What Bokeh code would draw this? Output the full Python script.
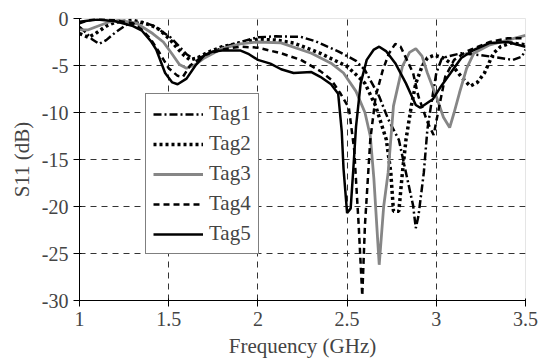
from bokeh.plotting import figure
from bokeh.models import Range1d, FixedTicker, Legend, LegendItem
from bokeh.embed import file_html
from bokeh.resources import INLINE

# ---- data ----
tag1_f = [1.0, 1.03, 1.07, 1.11, 1.15, 1.2, 1.26, 1.35, 1.42, 1.47, 1.51, 1.56, 1.6, 1.64, 1.7, 1.8, 1.9, 2.0,
          2.1, 2.24, 2.32, 2.39, 2.45, 2.5, 2.55, 2.6, 2.68, 2.73, 2.79, 2.83, 2.87, 2.885, 2.9, 2.93, 2.95,
          2.97, 3.0, 3.03, 3.06, 3.14, 3.25, 3.36, 3.43, 3.48, 3.5]
tag1_s = [-0.9, -1.4, -2.2, -2.7, -2.3, -1.5, -0.7, -0.35, -0.8, -1.5, -2.0, -3.0, -3.8, -4.3, -4.0, -3.1, -2.5, -2.0,
          -1.9, -1.95, -2.4, -3.0, -3.5, -4.0, -4.5, -5.5, -8.3, -10.7, -12.9, -16.4, -19.9, -22.3, -21.0, -16.4, -11.8,
          -9.3, -5.8, -4.3, -4.05, -3.7, -3.9, -4.2, -4.4, -4.05, -3.3]

tag2_f = [1.0, 1.05, 1.09, 1.15, 1.2, 1.3, 1.4, 1.45, 1.51, 1.55, 1.585, 1.62, 1.66, 1.72, 1.8, 1.9, 2.0, 2.1,
          2.2, 2.35, 2.5, 2.58, 2.6, 2.66, 2.72, 2.745, 2.76, 2.79, 2.81, 2.83, 2.86, 2.885, 2.92, 2.95, 2.99,
          3.04, 3.08, 3.14, 3.19, 3.23, 3.27, 3.32, 3.36, 3.42, 3.5]
tag2_s = [-1.6, -2.0, -1.6, -0.8, -0.4, -0.2, -0.7, -1.2, -2.3, -3.2, -3.9, -4.4, -4.2, -3.6, -3.0, -2.6, -2.2, -2.3,
          -2.6, -3.7, -5.1, -6.5, -6.9, -9.3, -12.9, -16.4, -20.5, -20.5, -16.4, -12.9, -9.3, -6.9, -5.1, -4.2, -3.9,
          -4.2, -4.75, -6.2, -7.2, -6.8, -5.8, -3.7, -3.0, -2.6, -2.8]

tag3_f = [1.0, 1.05, 1.09, 1.17, 1.22, 1.32, 1.41, 1.47, 1.52, 1.56, 1.6, 1.65, 1.7, 1.8, 1.9, 2.0, 2.13, 2.3,
          2.41, 2.48, 2.55, 2.6, 2.63, 2.65, 2.68, 2.705, 2.73, 2.76, 2.81, 2.85, 2.885, 2.92, 2.95, 3.0, 3.04,
          3.075, 3.1, 3.13, 3.17, 3.21, 3.3, 3.4, 3.5]
tag3_s = [-1.2, -1.2, -0.9, -0.35, -0.2, -0.5, -1.6, -2.5, -3.8, -4.9, -5.3, -4.9, -4.2, -3.2, -2.7, -2.5, -2.6, -3.7,
          -4.75, -5.8, -7.75, -10.0, -12.5, -17.0, -26.2, -20.0, -16.4, -9.3, -5.1, -3.6, -3.2, -4.0, -5.8, -8.3, -10.5,
          -11.6, -10.0, -7.9, -5.3, -3.7, -2.8, -2.3, -1.8]

tag4_f = [1.0, 1.05, 1.1, 1.2, 1.3, 1.35, 1.4, 1.45, 1.5, 1.55, 1.58, 1.62, 1.7, 1.8, 1.9, 2.0, 2.13, 2.24,
          2.35, 2.41, 2.46, 2.51, 2.54, 2.565, 2.585, 2.6, 2.63, 2.66, 2.7, 2.735, 2.77, 2.8, 2.87, 2.9, 2.95,
          2.985, 3.02, 3.05, 3.1, 3.17, 3.3, 3.4, 3.5]
tag4_s = [-0.5, -0.2, -0.05, -0.2, -0.5, -1.2, -2.2, -3.7, -5.3, -6.1, -6.2, -5.0, -3.9, -3.3, -3.0, -3.1, -3.7, -4.4,
          -5.6, -6.5, -7.9, -9.5, -14.0, -22.0, -29.5, -22.0, -12.9, -8.3, -5.5, -3.7, -2.7, -3.0, -5.8, -8.3, -11.0,
          -12.4, -9.0, -6.2, -4.4, -3.5, -2.5, -2.1, -2.1]

tag5_f = [1.0, 1.1, 1.2, 1.3, 1.35, 1.4, 1.43, 1.48, 1.52, 1.55, 1.6, 1.65, 1.7, 1.75, 1.8, 1.9, 1.95, 2.0,
          2.07, 2.13, 2.2, 2.3, 2.35, 2.41, 2.45, 2.47, 2.48, 2.5, 2.52, 2.535, 2.55, 2.576, 2.61, 2.65, 2.68,
          2.72, 2.77, 2.83, 2.885, 2.91, 2.98, 3.02, 3.08, 3.14, 3.21, 3.3, 3.4, 3.5]
tag5_s = [-0.35, -0.1, -0.3, -0.8, -1.3, -2.4, -3.3, -5.8, -6.8, -7.0, -6.4, -5.0, -3.9, -3.5, -3.4, -3.4, -3.8, -4.4,
          -4.8, -5.4, -5.8, -5.7, -6.2, -7.0, -8.0, -12.0, -16.0, -20.7, -20.2, -16.0, -11.5, -6.9, -4.4, -3.3, -3.0,
          -3.5, -4.75, -6.9, -9.2, -9.5, -8.6, -7.4, -5.8, -4.2, -3.35, -2.6, -2.5, -3.0]

labels = ["Tag1", "Tag2", "Tag3", "Tag4", "Tag5"]
x_ticks = [1, 1.5, 2, 2.5, 3, 3.5]
y_ticks = [-30, -25, -20, -15, -10, -5, 0]

FONT = "Liberation Serif"

p = figure(width=539, height=360, output_backend="svg", toolbar_location=None,
           x_range=Range1d(1, 3.5), y_range=Range1d(-30, 0),
           min_border_left=79, min_border_right=14, min_border_top=18, min_border_bottom=58)

series = [
    (tag1_f, tag1_s, dict(line_color="black", line_width=2.5, line_dash="8 3 2 3")),
    (tag2_f, tag2_s, dict(line_color="black", line_width=3.5, line_dash="3 3")),
    (tag3_f, tag3_s, dict(line_color="#868686", line_width=2.8)),
    (tag4_f, tag4_s, dict(line_color="black", line_width=2.5, line_dash="6 4")),
    (tag5_f, tag5_s, dict(line_color="black", line_width=2.5)),
]
items = []
for (f, s, style), lab in zip(series, labels):
    r = p.line(f, s, **style)
    items.append(LegendItem(label=lab, renderers=[r]))

p.xaxis.ticker = FixedTicker(ticks=x_ticks)
p.yaxis.ticker = FixedTicker(ticks=y_ticks)
p.yaxis.major_label_overrides = {t: str(t) for t in y_ticks}
p.xaxis.axis_label = "Frequency (GHz)"
p.yaxis.axis_label = "S11 (dB)"
p.xaxis.major_label_text_font = FONT
p.yaxis.major_label_text_font = FONT
p.xaxis.axis_label_text_font = FONT
p.yaxis.axis_label_text_font = FONT
p.axis.major_label_text_font_size = "20px"
p.axis.axis_label_text_font_size = "21px"
p.axis.axis_label_text_font_style = "normal"

p.grid.grid_line_color = "#333333"
p.grid.grid_line_dash = "6 5"
p.grid.grid_line_width = 1

legend = Legend(items=items, location=(66, 46),
                glyph_width=50, glyph_height=24, label_height=24,
                label_standoff=6, spacing=5, padding=7, margin=0,
                border_line_color="black", border_line_width=1,
                background_fill_color="white", background_fill_alpha=1)
legend.label_text_font = FONT
legend.label_text_font_size = "21px"
p.add_layout(legend, "center")

open("out.html", "w").write(file_html(p, INLINE))
